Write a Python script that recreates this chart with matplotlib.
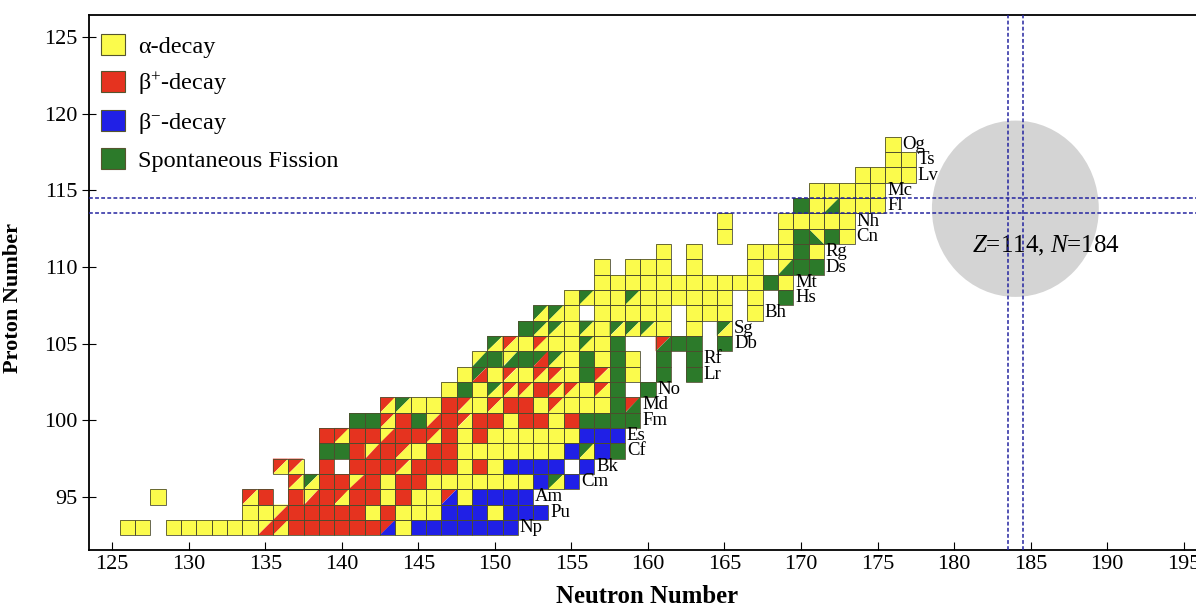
import matplotlib.pyplot as plt
from matplotlib.patches import Polygon, Rectangle, Ellipse, Patch

plt.rcParams['font.family'] = 'Liberation Serif'
plt.rcParams['mathtext.fontset'] = 'custom'
plt.rcParams['mathtext.rm'] = 'Liberation Serif'
plt.rcParams['mathtext.it'] = 'Liberation Serif:italic'

# decay mode codes: a alpha, p beta+, m beta-, f fission, . no nuclide
# split cells (upper-left / lower-right): A p/a, C a/p, B f/a, G a/f, D f/p, R p/f, M p/m
proton = [93, 94, 95, 96, 97, 98, 99, 100, 101, 102, 103, 104, 105, 106,
          107, 108, 109, 110, 111, 112, 113, 114, 115, 116, 117, 118]
first_neutron = [126, 134, 128, 137, 136, 139, 139, 141, 143, 147, 148, 149, 150, 152,
                 153, 155, 157, 157, 161, 165, 165, 170, 171, 174, 176, 176]
decay_row = [
    "aa.aaaaaaCAppppppMammmmmmm",
    "aaCpppppapaaammmammm",
    "a.....Ap.pCpAppapaaMammmm",
    "ABppCpappaaaaaaamBm",
    "AA.p.pppApppapammmm.m",
    "ffpCpAappaaaaaaamBmf",
    "pAppCppApapaaaaaammm",
    "ffApfCpAppappapffff",
    "ABaapAaAppaAaaafR",
    "afaBAApAAaAf.f",
    "aDaAaAAafAfa.f.f",
    "GfGfDBafafa.f.f",
    "BAaAaaBaf..Rff.f",
    "fBBaBaBBBa.a.B",
    "BBa.aaaaa.aaa.a",
    "aBaaBaaaaaa.a.f",
    "aaaaaaaaaaafa",
    "a.aaa.a...a.Gff",
    "a.a...aaafa",
    "a...afhfa",
    "a...aaaaa",
    "faGaaa",
    "aaaaa",
    "aaaa",
    "aa",
    "a",
]

element = ["Np", "Pu", "Am", "Cm", "Bk", "Cf", "Es", "Fm", "Md", "No", "Lr", "Rf", "Db",
           "Sg", "Bh", "Hs", "Mt", "Ds", "Rg", "Cn", "Nh", "Fl", "Mc", "Lv", "Ts", "Og"]
element_z = [93, 94, 95, 96, 97, 98, 99, 100, 101, 102, 103, 104, 105,
             106, 107, 108, 109, 110, 111, 112, 113, 114, 115, 116, 117, 118]
element_last_n = [151, 153, 152, 155, 156, 158, 158, 159, 159, 160, 163, 163, 165,
                  165, 167, 169, 169, 171, 171, 173, 173, 175, 175, 177, 177, 176]

mode_labels = ["α-decay", "β$^{+}$-decay", "β$^{-}$-decay", "Spontaneous Fission"]

col = {'a': '#fbfb4c', 'p': '#e5331f', 'm': '#2020e6', 'f': '#2c7a2a'}
split = {'A': ('p', 'a'), 'C': ('a', 'p'), 'B': ('f', 'a'), 'G': ('a', 'f'),
         'D': ('f', 'p'), 'R': ('p', 'f'), 'M': ('p', 'm')}
anti = {'h': ('f', 'a')}  # lower-left / upper-right

fig = plt.figure(figsize=(11.96, 6.09), dpi=100)
ax = fig.add_axes([0.0747, 0.0969, 1.0 - 0.0747, 0.9754 - 0.0969])

for z, n0, row in zip(proton, first_neutron, decay_row):
    for i, c in enumerate(row):
        if c == '.':
            continue
        n = n0 + i
        x0, x1, y0, y1 = n - 0.5, n + 0.5, z - 0.5, z + 0.5
        if c in col:
            ax.add_patch(Rectangle((x0, y0), 1, 1, facecolor=col[c], edgecolor='none', zorder=2))
        elif c in split:
            ul, lr = split[c]
            ax.add_patch(Polygon([(x0, y0), (x1, y1), (x0, y1)], closed=True,
                                 facecolor=col[ul], edgecolor='none', zorder=2))
            ax.add_patch(Polygon([(x0, y0), (x1, y0), (x1, y1)], closed=True,
                                 facecolor=col[lr], edgecolor='none', zorder=2))
        else:
            ll, ur = anti[c]
            ax.add_patch(Polygon([(x0, y0), (x1, y0), (x0, y1)], closed=True,
                                 facecolor=col[ll], edgecolor='none', zorder=2))
            ax.add_patch(Polygon([(x1, y0), (x1, y1), (x0, y1)], closed=True,
                                 facecolor=col[ur], edgecolor='none', zorder=2))
        ax.add_patch(Rectangle((x0, y0), 1, 1, facecolor='none', edgecolor='#4d4d2e',
                               linewidth=0.7, alpha=0.85, zorder=3))

for name, z, n in zip(element, element_z, element_last_n):
    ax.text(n + 0.62, z, name, fontsize=13.5, ha='left', va='center', zorder=4)

# island of stability
ax.add_patch(Ellipse((184, 113.8), 10.9, 11.5, facecolor='#d4d4d4', edgecolor='none', zorder=1))
ax.text(186, 111.4, r'$Z$=114, $N$=184', fontsize=18, ha='center', va='center', zorder=4)
for v in (183.5, 184.5):
    ax.axvline(v, color='#2424a0', linestyle=(0, (2.5, 1.5)), linewidth=1.1, zorder=5)
for h in (113.5, 114.5):
    ax.axhline(h, color='#2424a0', linestyle=(0, (2.5, 1.5)), linewidth=1.1, zorder=5)

handles = [Patch(facecolor=col[k], edgecolor='#55552e', linewidth=0.8) for k in 'apmf']
ax.legend(handles, mode_labels, loc='upper left', frameon=False, fontsize=17.5,
          handlelength=0.95, handleheight=0.95, handletextpad=0.55, labelspacing=0.52,
          borderpad=0.5, borderaxespad=0.0, bbox_to_anchor=(0.0, 0.987))

ax.set_xlim(123.51, 195.8)
ax.set_ylim(91.54, 126.44)
ax.set_xticks(range(125, 196, 5))
ax.set_yticks(range(95, 126, 5))
ax.tick_params(axis='x', direction='in', length=6, labelsize=16, top=False)
ax.tick_params(axis='y', direction='inout', length=10, labelsize=16, right=False)
ax.spines['right'].set_visible(False)
for s in ('left', 'top', 'bottom'):
    ax.spines[s].set_linewidth(1.3)
ax.set_xlabel('Neutron Number', fontsize=17.8, fontweight='bold')
ax.set_ylabel('Proton Number', fontsize=16, fontweight='bold')
ax.xaxis.set_label_coords(0.504, -0.066)
ax.yaxis.set_label_coords(-0.06, 0.471)

fig.savefig('out.png', dpi=100)
